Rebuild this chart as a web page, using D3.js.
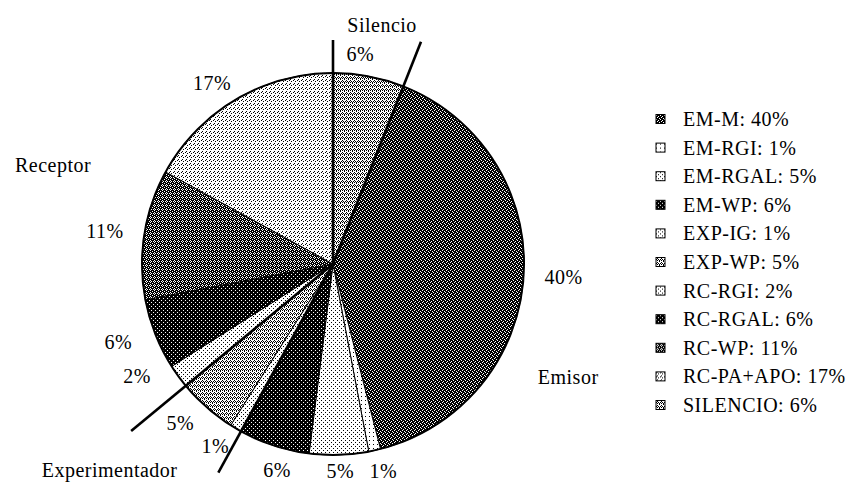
<!DOCTYPE html>
<html><head><meta charset="utf-8">
<script src="https://cdn.jsdelivr.net/npm/d3@7"></script>
<style>
body{margin:0;background:#fff}
svg{display:block}
</style>
</head><body>
<svg id="chart" width="851" height="482"></svg>
<script>
// ---- data ----
const categories = ["EM-M","EM-RGI","EM-RGAL","EM-WP","EXP-IG","EXP-WP","RC-RGI","RC-RGAL","RC-WP","RC-PA+APO","SILENCIO"];
const values     = [40, 1, 5, 6, 1, 5, 2, 6, 11, 17, 6];
const sliceOrder = ["SILENCIO","EM-M","EM-RGI","EM-RGAL","EM-WP","EXP-IG","EXP-WP","RC-RGI","RC-RGAL","RC-WP","RC-PA+APO"];
const groupNames   = ["Silencio","Emisor","Experimentador","Receptor"];
const groupMembers = [["SILENCIO"],["EM-M","EM-RGI","EM-RGAL","EM-WP"],["EXP-IG","EXP-WP"],["RC-RGI","RC-RGAL","RC-WP","RC-PA+APO"]];

// ---- layout / style ----
const W = 851, H = 482;
const cx = 333, cy = 264, R = 191;
const labelRx = 231, labelRy = 212;
const labelAngleShift = {"SILENCIO":-4, "EM-WP":-4, "RC-RGI":4, "RC-PA+APO":-1}; // degrees
const FONT = "'Liberation Serif', 'Times New Roman', Tinos, 'DejaVu Serif', serif";
const groupLabelPolar = [[11.6,244],[115.7,261],[227.3,304],[289.5,297]]; // degrees, radius
const separatorLen = [224, 239, 238, 262]; // starting boundary of each group
const textures = {
  light1: {bg:"#fff", ink:"#000", px:[[0,0]]},
  light:  {bg:"#fff", ink:"#000", px:[[0,0],[2,2]]},
  light2: {bg:"#fff", ink:"#000", px:[[0,0],[2,1],[1,3]]},
  medium: {bg:"#fff", ink:"#000", px:[[1,0],[0,1],[2,1],[1,2],[3,3],[3,2]]},
  dark:   {bg:"#000", ink:"#fff", px:[[0,0],[2,1],[1,2],[3,3]]},
  dark2:  {bg:"#000", ink:"#fff", px:[[1,0],[0,1],[2,1],[1,2],[3,3]]},
  vdark:  {bg:"#000", ink:"#fff", px:[[0,0],[2,2]]}
};
const textureOf = {"EM-M":"dark","EM-RGI":"light1","EM-RGAL":"light","EM-WP":"vdark","EXP-IG":"light",
  "EXP-WP":"medium","RC-RGI":"light","RC-RGAL":"vdark","RC-WP":"dark2","RC-PA+APO":"light2","SILENCIO":"medium"};

const svg = d3.select("#chart")
  .attr("font-family", FONT).attr("font-size", 20).style("font-family", FONT);
const defs = svg.append("defs");
Object.entries(textures).forEach(([k,t])=>{
  const p = defs.append("pattern").attr("id","tx-"+k).attr("patternUnits","userSpaceOnUse")
    .attr("x",0).attr("y",0).attr("width",4).attr("height",4);
  p.append("rect").attr("width",4).attr("height",4).attr("fill",t.bg).attr("shape-rendering","crispEdges");
  t.px.forEach(([x,y])=>p.append("rect").attr("x",x).attr("y",y).attr("width",1).attr("height",1)
    .attr("fill",t.ink).attr("shape-rendering","crispEdges"));
});
const fillOf = c => "url(#tx-" + textureOf[c] + ")";
const styleText = sel => sel.attr("font-family",FONT).style("font-family",FONT)
  .attr("font-size",20).attr("letter-spacing","0.5px").attr("fill","#000");

const valueOf = c => values[categories.indexOf(c)];
const slicesData = sliceOrder.map(c => ({cat:c, value:valueOf(c)}));
const pie = d3.pie().sort(null).value(d=>d.value).startAngle(0).endAngle(2*Math.PI);
const arcs = pie(slicesData);
const arc = d3.arc().innerRadius(0).outerRadius(R);

const g = svg.append("g").attr("transform",`translate(${cx},${cy})`);
g.selectAll("path.slice").data(arcs).join("path").attr("class","slice")
  .attr("d",arc).attr("fill",d=>fillOf(d.data.cat))
  .attr("stroke","#000").attr("stroke-width",1).attr("stroke-linejoin","round");
g.append("circle").attr("r",R).attr("fill","none").attr("stroke","#000").attr("stroke-width",2);

// percentage labels (kept inside the canvas)
const maxY = H - cy - 11;
const labelAngle = d => (d.startAngle+d.endAngle)/2 + (labelAngleShift[d.data.cat]||0)*Math.PI/180;
g.selectAll("text.pct").data(arcs).join("text").attr("class","pct")
  .attr("x",d=>labelRx*Math.sin(labelAngle(d)))
  .attr("y",d=>Math.min(maxY, -labelRy*Math.cos(labelAngle(d))))
  .attr("text-anchor","middle").attr("dy","0.35em")
  .text(d=>d.data.value + "%").call(styleText);

// group separators and labels
const groupStart = groupMembers.map(m => arcs.find(a=>a.data.cat===m[0]).startAngle);
g.selectAll("line.sep").data(groupStart).join("line").attr("class","sep")
  .attr("x1",0).attr("y1",0)
  .attr("x2",(a,i)=>separatorLen[i]*Math.sin(a))
  .attr("y2",(a,i)=>-separatorLen[i]*Math.cos(a))
  .attr("stroke","#000").attr("stroke-width",2.6).attr("stroke-linecap","butt");
g.selectAll("text.grp").data(groupNames).join("text").attr("class","grp")
  .attr("x",(d,i)=>groupLabelPolar[i][1]*Math.sin(groupLabelPolar[i][0]*Math.PI/180))
  .attr("y",(d,i)=>-groupLabelPolar[i][1]*Math.cos(groupLabelPolar[i][0]*Math.PI/180))
  .attr("text-anchor","middle").attr("dy","0.35em").text(d=>d).call(styleText);

// legend
const ly = d3.scalePoint().domain(categories).range([119, 405]);
const leg = svg.append("g");
const rows = leg.selectAll("g").data(categories).join("g")
  .attr("transform",c=>`translate(656,${ly(c)})`);
rows.append("rect").attr("x",0).attr("y",-4.5).attr("width",9).attr("height",9)
  .attr("fill",c=>fillOf(c)).attr("stroke","#000").attr("stroke-width",1);
rows.append("text").attr("x",27).attr("dy","0.35em").text(c=>c + ": " + valueOf(c) + "%").call(styleText);
</script>
</body></html>
